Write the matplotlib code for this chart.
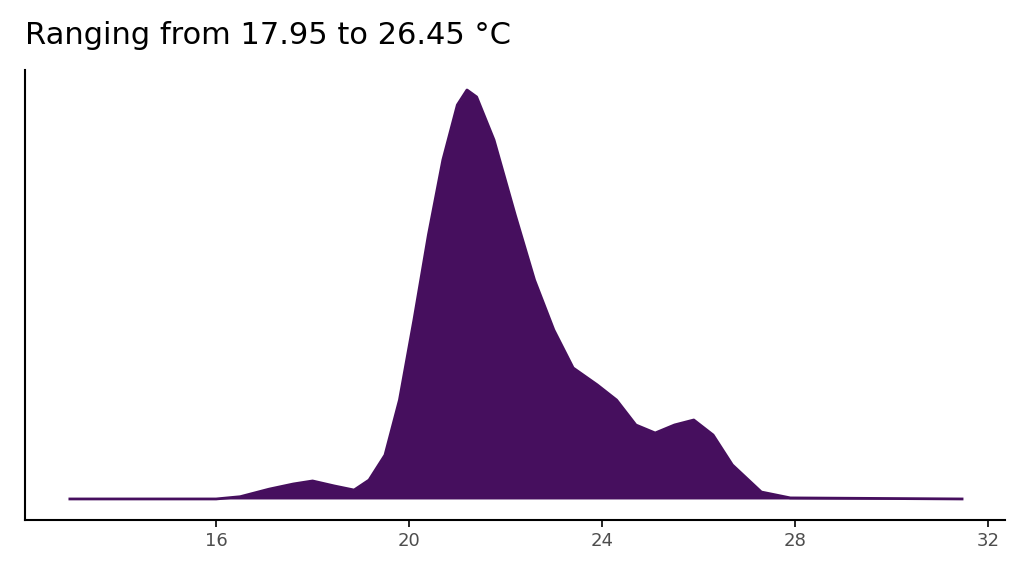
import matplotlib
matplotlib.use("Agg")
import matplotlib.pyplot as plt

temp = [12.97, 16.0, 16.5, 17.1, 17.6, 18.0, 18.45, 18.86, 19.17, 19.5, 19.8, 20.1, 20.4, 20.7, 21.0, 21.2, 21.4,
        21.76, 22.2, 22.6, 23.0, 23.4, 23.9, 24.3, 24.7, 25.1, 25.5, 25.9, 26.3, 26.7, 27.3, 27.9, 31.46]
density = [0, 0, 0.0015, 0.0065, 0.0099, 0.0119, 0.0086, 0.0059, 0.0125, 0.0290, 0.0654, 0.1183, 0.1745, 0.2241,
           0.2604, 0.2703, 0.2657, 0.2373, 0.1877, 0.1447, 0.1117, 0.0866, 0.0754, 0.0654, 0.0489, 0.0436, 0.0489,
           0.0522, 0.0423, 0.0225, 0.0046, 0.0007, 0]
ticks = [16, 20, 24, 28, 32]

fig = plt.figure(figsize=(10.24, 5.76), dpi=100)
ax = fig.add_axes([25/1024, 1-520/576, 980/1024, 450/576])
col = "#460F5E"
ax.fill_between(temp, density, 0, color=col, lw=0)
ax.plot(temp, density, color=col, lw=2)
ax.set_xlim(12.04, 32.35)
ax.set_ylim(-0.0139, 0.2835)
ax.set_yticks([])
ax.set_xticks(ticks)
ax.set_xticklabels([str(t) for t in ticks], fontsize=13, color="#4d4d4d")
ax.tick_params(axis="x", length=5, width=1.2)
for s in ["top", "right"]:
    ax.spines[s].set_visible(False)
for s in ["left", "bottom"]:
    ax.spines[s].set_linewidth(1.5)
fig.text(25/1024, 1-35/576, "Ranging from 17.95 to 26.45 °C", fontsize=22, va="center")
fig.savefig("out.png", dpi=100)
